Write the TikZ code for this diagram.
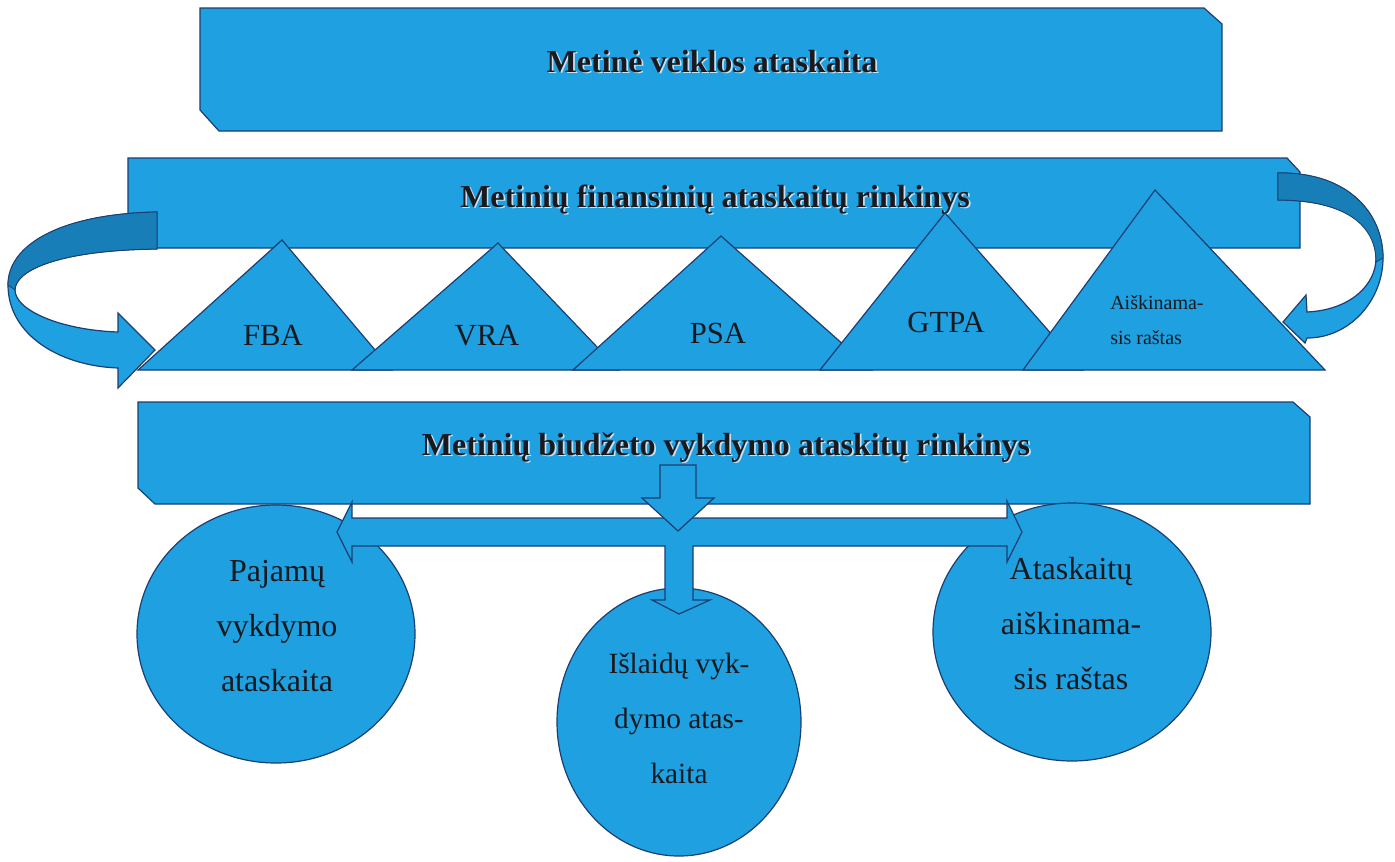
\documentclass[tikz,border=0pt]{standalone}
\usepackage{fontspec}
\setmainfont{Liberation Serif}
\definecolor{boxblue}{RGB}{30,160,225}
\definecolor{edgeblue}{RGB}{28,62,112}
\definecolor{darkribbon}{RGB}{24,126,184}
\definecolor{txt}{RGB}{25,25,30}
\definecolor{shadowc}{RGB}{200,225,240}
\newcommand{\shadowed}[1]{\makebox[0pt][l]{\hspace{1.3pt}\raisebox{-1.3pt}{\color{shadowc}#1}}#1}
\begin{document}
\begin{tikzpicture}[x=0.75pt,y=-0.75pt,
  blueshape/.style={fill=boxblue, draw=edgeblue, line width=0.9pt, line join=miter},
  ribbondark/.style={fill=darkribbon, draw=edgeblue, line width=0.6pt},
  titletext/.style={font=\fontsize{24}{28}\selectfont\bfseries, text=txt, inner sep=0pt, anchor=base},
  trilabel/.style={font=\fontsize{23}{27}\selectfont, text=txt, inner sep=0pt, anchor=base},
  circlabel/.style={font=\fontsize{24}{41.25}\selectfont, text=txt, inner sep=0pt, align=center, anchor=center}]
\useasboundingbox (0,0) rectangle (1395,861);

% banner 1
\draw[blueshape] (200,8) -- (1204,8) -- (1222,24) -- (1222,131) -- (219,131) -- (200,110) -- cycle;
\node[titletext] (t1) at (712,72) {\shadowed{Metinė veiklos ataskaita}};

% banner 2
\draw[blueshape] (128,158) -- (1287,158) -- (1300,172) -- (1300,248) -- (128,248) -- cycle;
\node[titletext] (t2) at (715,207) {\shadowed{Metinių finansinių ataskaitų rinkinys}};

% triangles
\draw[blueshape] (138,370) -- (282,240) -- (392,370) -- cycle;
\node[trilabel] (fba) at (273,345) {FBA};
\draw[blueshape] (352,370) -- (498,243) -- (619,370) -- cycle;
\node[trilabel] (vra) at (487,345) {VRA};
\draw[blueshape] (573,370) -- (721,236) -- (872,370) -- cycle;
\node[trilabel] (psa) at (718,343) {PSA};
\draw[blueshape] (820,370) -- (945,213) -- (1083,370) -- cycle;
\node[trilabel] (gtpa) at (946,332) {GTPA};
\draw[blueshape] (1023,370) -- (1155,190) -- (1325,370) -- cycle;
\node[font=\fontsize{15}{26.25}\selectfont, text=txt, inner sep=0pt, align=left, anchor=west] (ar) at (1110,320.5) {Aiškinama-\\sis raštas};

% left curved arrow
\draw[blueshape] (157,212) .. controls (60,214) and (8,245) .. (8,285)
  .. controls (8,335) and (60,366) .. (118,368)
  -- (118,388) -- (155,350) -- (118,313) -- (118,332)
  .. controls (60,330) and (15,310) .. (15,290)
  .. controls (15,270) and (60,250) .. (157,249) -- cycle;
\draw[ribbondark] (157,212) .. controls (60,214) and (8,245) .. (8,285)
  -- (15,290) .. controls (15,270) and (60,250) .. (157,249) -- cycle;

% right curved arrow
\draw[blueshape] (1278,173) .. controls (1350,172) and (1383,215) .. (1383,258)
  .. controls (1383,300) and (1350,338) .. (1307,338)
  -- (1305,343) -- (1283,322) -- (1306,295) -- (1307,312)
  .. controls (1350,310) and (1376,285) .. (1376,258)
  .. controls (1376,225) and (1345,200) .. (1278,200) -- cycle;
\draw[ribbondark] (1278,173) .. controls (1350,172) and (1383,215) .. (1383,258)
  -- (1376,262) .. controls (1376,225) and (1345,200) .. (1278,200) -- cycle;

% banner 3
\draw[blueshape] (138,402) -- (1293,402) -- (1310,417) -- (1310,504) -- (155,504) -- (138,488) -- cycle;
\node[titletext] (t3) at (726,455) {\shadowed{Metinių biudžeto vykdymo ataskitų rinkinys}};

% circles
\draw[blueshape] (276,634) ellipse [x radius=139, y radius=129];
\draw[blueshape] (679,722) ellipse [x radius=122, y radius=134];
\draw[blueshape] (1072,632) ellipse [x radius=139, y radius=129];
\node[circlabel] (c1) at (277,626) {Pajamų\\vykdymo\\ataskaita};
\node[circlabel, font=\fontsize{22}{41.25}\selectfont] (c2) at (679,718) {Išlaidų vyk-\\dymo atas-\\kaita};
\node[circlabel] (c3) at (1071,624) {Ataskaitų\\aiškinama-\\sis raštas};

% T-shaped arrow
\draw[blueshape] (337,532) -- (352,502) -- (352,518) -- (1007,518) -- (1007,501) -- (1022,532)
  -- (1007,562) -- (1007,546) -- (693,546) -- (693,600) -- (710,600) -- (679,614)
  -- (652,600) -- (665,600) -- (665,546) -- (352,546) -- (352,562) -- cycle;

% down arrow from banner 3
\draw[blueshape] (660,465) -- (696,465) -- (696,498) -- (714,498) -- (678,531) -- (642,498) -- (660,498) -- cycle;
\end{tikzpicture}
\end{document}
